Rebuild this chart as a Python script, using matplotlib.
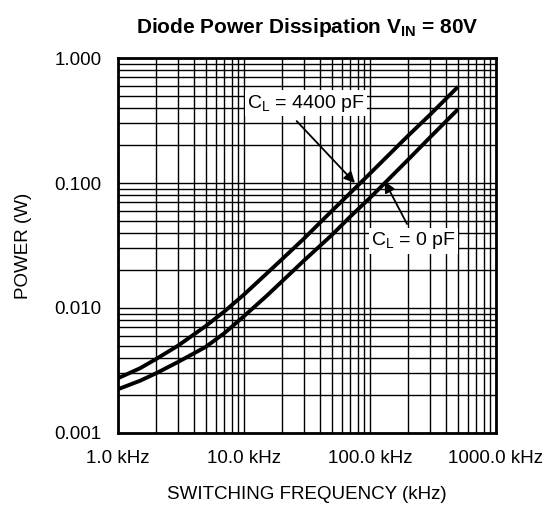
import numpy as np
import matplotlib
matplotlib.use("Agg")
import matplotlib.pyplot as plt
from matplotlib.ticker import LogLocator, FixedLocator, NullFormatter

plt.rcParams['font.family'] = ['Liberation Sans', 'DejaVu Sans']
plt.rcParams['mathtext.fontset'] = 'custom'
plt.rcParams['mathtext.rm'] = 'Liberation Sans'
plt.rcParams['mathtext.it'] = 'Liberation Sans:italic'
plt.rcParams['mathtext.bf'] = 'Liberation Sans:bold'

# Data (frequency in kHz, power in W)
freq_4400 = [1, 1.5, 2, 3, 5, 7, 10, 15, 20, 30, 50, 70, 100, 200, 300, 500]
power_4400 = [0.00274, 0.00330, 0.00390, 0.00500, 0.00720, 0.0094, 0.0128, 0.0187,
              0.0245, 0.0360, 0.0600, 0.0835, 0.119, 0.238, 0.352, 0.589]
freq_0 = [1, 1.5, 2, 3, 5, 7, 10, 15, 20, 30, 50, 70, 100, 200, 300, 500]
power_0 = [0.00224, 0.00262, 0.00300, 0.00370, 0.00490, 0.0063, 0.0086, 0.0124,
           0.0163, 0.0240, 0.0385, 0.054, 0.076, 0.153, 0.232, 0.389]

x_ticks = [1, 10, 100, 1000]
x_ticklabels = ['1.0 kHz', '10.0 kHz', '100.0 kHz', '1000.0 kHz']
y_ticks = [0.001, 0.01, 0.1, 1.0]
y_ticklabels = ['0.001', '0.010', '0.100', '1.000']

fig = plt.figure(figsize=(5.43, 5.17), dpi=100)
ax = fig.add_axes([0.2173, 0.1625, 0.696, 0.7253])
ax.set_xscale('log')
ax.set_yscale('log')
ax.set_xlim(1, 1000)
ax.set_ylim(0.001, 1.0)

ax.xaxis.set_major_locator(FixedLocator(x_ticks))
ax.yaxis.set_major_locator(FixedLocator(y_ticks))
ax.xaxis.set_minor_locator(LogLocator(base=10, subs=np.arange(2, 10)))
ax.yaxis.set_minor_locator(LogLocator(base=10, subs=np.arange(2, 10)))
ax.xaxis.set_minor_formatter(NullFormatter())
ax.yaxis.set_minor_formatter(NullFormatter())
ax.set_xticklabels(x_ticklabels)
ax.set_yticklabels(y_ticklabels)
ax.tick_params(which='both', length=0, labelsize=13.5, colors='black')
ax.tick_params(axis='x', pad=12)
ax.tick_params(axis='y', pad=12)

ax.grid(True, which='both', color='black', linewidth=1.0)
for s in ax.spines.values():
    s.set_linewidth(2.0)
    s.set_color('black')

ax.plot(freq_4400, power_4400, color='black', linewidth=2.8, solid_capstyle='butt', zorder=3)
ax.plot(freq_0, power_0, color='black', linewidth=2.8, solid_capstyle='butt', zorder=3)

ax.text(31, 0.436, r'C$_{\mathrm{L}}$ = 4400 pF', fontsize=14, ha='center', va='center',
        bbox=dict(facecolor='white', edgecolor='none', pad=1.5), zorder=5)
ax.annotate('', xy=(76, 0.100), xytext=(26.2, 0.313),
            arrowprops=dict(arrowstyle='-|>', color='black', lw=1.3, mutation_scale=16,
                            shrinkA=0, shrinkB=0), zorder=5)

ax.text(223, 0.0344, r'C$_{\mathrm{L}}$ = 0 pF', fontsize=14, ha='center', va='center',
        bbox=dict(facecolor='white', edgecolor='none', pad=1.5), zorder=5)
ax.annotate('', xy=(131, 0.103), xytext=(197, 0.047),
            arrowprops=dict(arrowstyle='-|>', color='black', lw=1.3, mutation_scale=16,
                            shrinkA=0, shrinkB=0), zorder=5)

ax.set_xlabel('SWITCHING FREQUENCY (kHz)', fontsize=13.5, labelpad=14)
ax.set_ylabel('POWER (W)', fontsize=13.5, labelpad=16)
fig.text(0.5 * (0.2173 + 0.9134), 0.947, r'Diode Power Dissipation V$_{\mathbf{IN}}$ = 80V',
         fontsize=15, fontweight='bold', ha='center', va='center')

fig.savefig('out.png', dpi=100)
